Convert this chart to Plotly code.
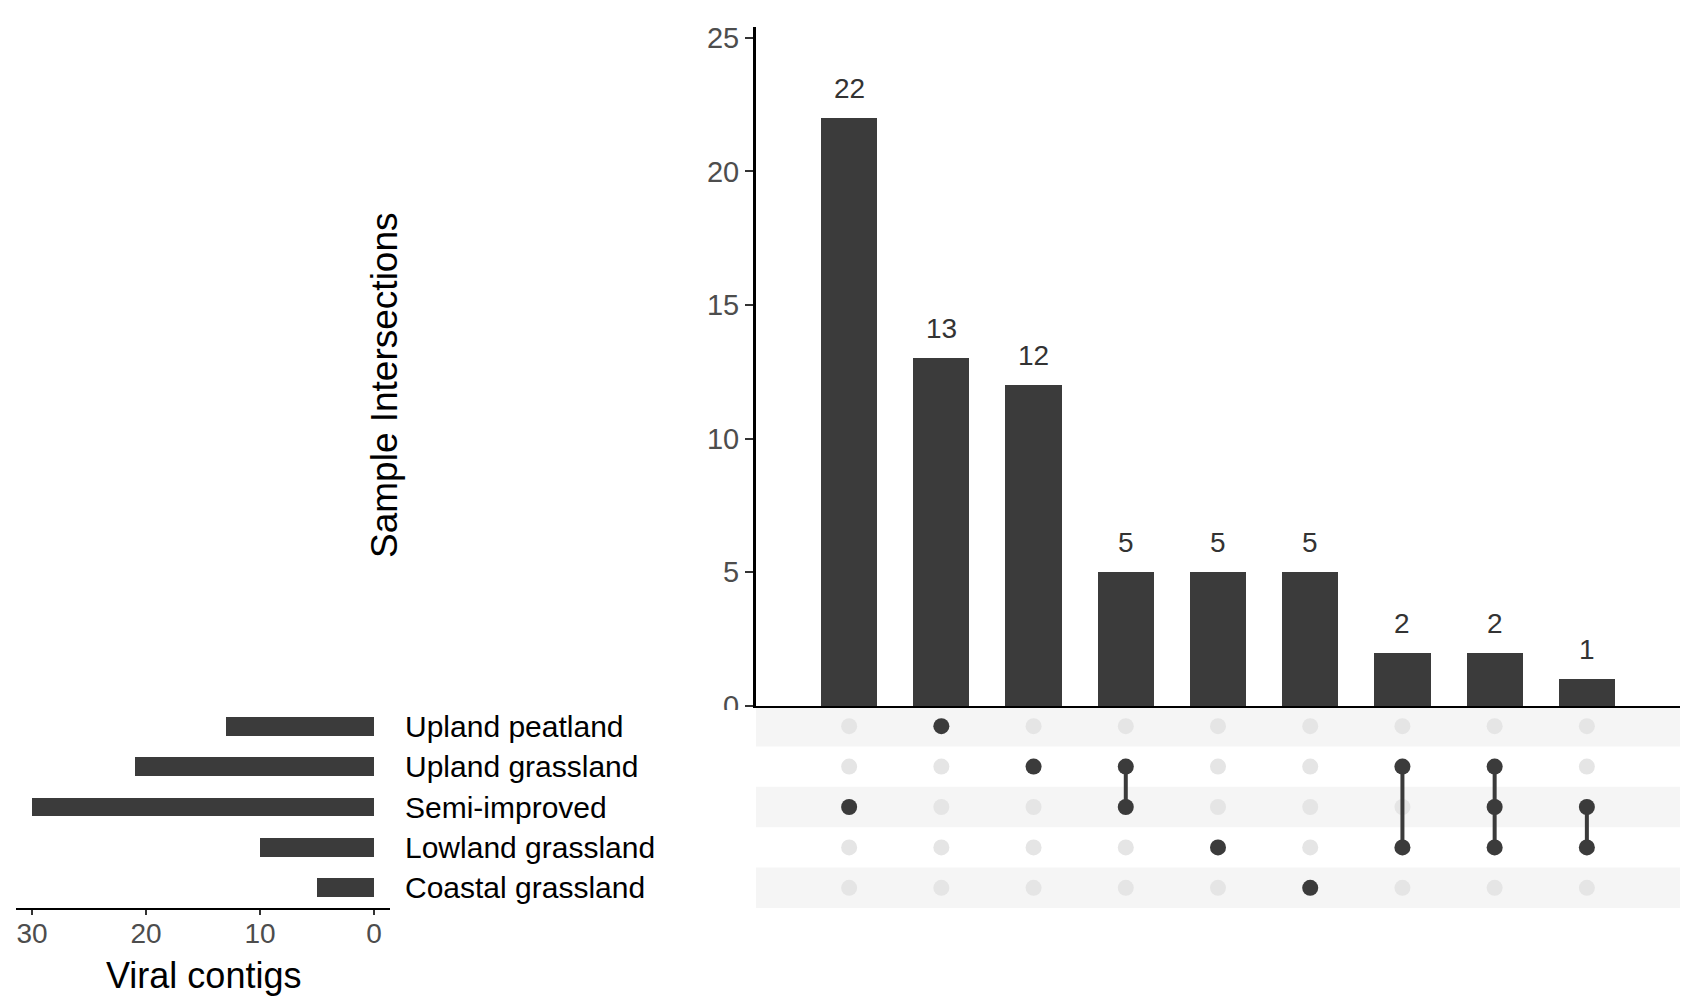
import plotly.graph_objects as go

# Sets (top to bottom in the matrix) and their total sizes
set_names = ["Upland peatland", "Upland grassland", "Semi-improved",
             "Lowland grassland", "Coastal grassland"]
set_sizes = [13, 21, 30, 10, 5]

# Intersections, in descending order of size
intersection_sizes = [22, 13, 12, 5, 5, 5, 2, 2, 1]
intersection_members = [
    ["Semi-improved"],
    ["Upland peatland"],
    ["Upland grassland"],
    ["Upland grassland", "Semi-improved"],
    ["Lowland grassland"],
    ["Coastal grassland"],
    ["Upland grassland", "Lowland grassland"],
    ["Upland grassland", "Semi-improved", "Lowland grassland"],
    ["Semi-improved", "Lowland grassland"],
]

W, H = 1686, 997
DARK = "#3b3b3b"
DOT_OFF = "#e5e5e5"
BAND = "#f5f5f5"
FONT = "Liberation Sans, Arial, Helvetica, sans-serif"


def px_x(p):
    return p / W


def px_y(p):
    return 1 - p / H


n_int = len(intersection_sizes)
int_x = list(range(n_int))
row_of = {name: i for i, name in enumerate(set_names)}

fig = go.Figure()

# Intersection size bars
fig.add_trace(go.Bar(
    x=int_x, y=intersection_sizes, width=0.61,
    marker=dict(color=DARK, line=dict(width=0)),
    xaxis="x", yaxis="y", showlegend=False, hoverinfo="y",
))

# Matrix: inactive dots
off_x, off_y = [], []
for i in int_x:
    for r in range(len(set_names)):
        off_x.append(i)
        off_y.append(r)
fig.add_trace(go.Scatter(
    x=off_x, y=off_y, mode="markers",
    marker=dict(size=16, color=DOT_OFF, line=dict(width=0)),
    xaxis="x2", yaxis="y2", showlegend=False, hoverinfo="skip",
))

# Matrix: connecting segments
for i, members in zip(int_x, intersection_members):
    rows = sorted(row_of[m] for m in members)
    if len(rows) > 1:
        fig.add_trace(go.Scatter(
            x=[i, i], y=[rows[0], rows[-1]], mode="lines",
            line=dict(color=DARK, width=4),
            xaxis="x2", yaxis="y2", showlegend=False, hoverinfo="skip",
        ))

# Matrix: active dots
on_x, on_y = [], []
for i, members in zip(int_x, intersection_members):
    for m in members:
        on_x.append(i)
        on_y.append(row_of[m])
fig.add_trace(go.Scatter(
    x=on_x, y=on_y, mode="markers",
    marker=dict(size=16, color=DARK, line=dict(width=0)),
    xaxis="x2", yaxis="y2", showlegend=False, hoverinfo="skip",
))

# Set size bars (growing leftwards)
fig.add_trace(go.Bar(
    x=set_sizes, y=list(range(len(set_names))), orientation="h", width=0.47,
    marker=dict(color=DARK, line=dict(width=0)),
    xaxis="x3", yaxis="y3", showlegend=False, hoverinfo="x",
))

main_xdom = [px_x(756), px_x(1680)]
main_ydom = [px_y(706), px_y(27)]
mat_ydom = [px_y(908), px_y(706)]
left_xdom = [px_x(16), px_x(390)]

shapes = []
# alternating row bands behind the matrix
for r in range(len(set_names)):
    if r % 2 == 0:
        shapes.append(dict(
            type="rect", xref="x2 domain", yref="y2",
            x0=0, x1=1, y0=r - 0.5, y1=r + 0.5,
            fillcolor=BAND, line=dict(width=0), layer="below",
        ))
# the matrix panel overlaps the lower part of the "0" tick label
shapes.append(dict(
    type="rect", xref="paper", yref="paper",
    x0=px_x(600), x1=px_x(755), y0=px_y(735), y1=px_y(710),
    fillcolor="white", line=dict(width=0), layer="above",
))

annotations = []
# counts above intersection bars
for i, v in zip(int_x, intersection_sizes):
    annotations.append(dict(
        x=i, y=v, xref="x", yref="y", text=str(v), showarrow=False,
        yanchor="bottom", yshift=12,
        font=dict(family=FONT, size=28, color="#333333"),
    ))
# set names
for r, name in enumerate(set_names):
    annotations.append(dict(
        x=px_x(403), y=r, xref="paper", yref="y2", text=name,
        showarrow=False, xanchor="left", yanchor="middle",
        font=dict(family=FONT, size=30, color="black"),
    ))
# main y-axis title
annotations.append(dict(
    x=px_x(385), y=px_y(385), xref="paper", yref="paper",
    text="Sample Intersections", textangle=-90, showarrow=False,
    xanchor="center", yanchor="middle",
    font=dict(family=FONT, size=37, color="black"),
))
# set size axis title
annotations.append(dict(
    x=px_x(203), y=px_y(975), xref="paper", yref="paper",
    text="Viral contigs", showarrow=False,
    xanchor="center", yanchor="middle",
    font=dict(family=FONT, size=36, color="black"),
))

common_axis = dict(showgrid=False, zeroline=False, fixedrange=True,
                   automargin=False)

fig.update_layout(
    width=W, height=H,
    margin=dict(l=0, r=0, t=0, b=0, pad=0, autoexpand=False),
    paper_bgcolor="white", plot_bgcolor="rgba(0,0,0,0)",
    font=dict(family=FONT),
    bargap=0,
    shapes=shapes,
    annotations=annotations,
    xaxis=dict(
        domain=main_xdom, range=[-1.01, n_int - 1 + 1.01],
        showline=True, linecolor="black", linewidth=1.5,
        showticklabels=False, ticks="", **common_axis,
    ),
    yaxis=dict(
        domain=main_ydom, range=[0, 25.4],
        tickvals=[0, 5, 10, 15, 20, 25],
        showline=True, linecolor="black", linewidth=3,
        ticks="outside", ticklen=8, tickwidth=2, tickcolor="#333333",
        tickfont=dict(family=FONT, size=29, color="#4d4d4d"),
        **common_axis,
    ),
    xaxis2=dict(
        domain=main_xdom, range=[-1.01, n_int - 1 + 1.01], anchor="y2",
        showline=False, showticklabels=False, ticks="", **common_axis,
    ),
    yaxis2=dict(
        domain=mat_ydom, range=[4.5, -0.5], anchor="x2",
        showline=False, showticklabels=False, ticks="", **common_axis,
    ),
    xaxis3=dict(
        domain=left_xdom, range=[31.4, -1.4], anchor="y3",
        tickvals=[0, 10, 20, 30],
        showline=True, linecolor="black", linewidth=2,
        ticks="outside", ticklen=5, tickwidth=2, tickcolor="#333333",
        ticklabelstandoff=-6,
        tickfont=dict(family=FONT, size=28, color="#4d4d4d"),
        **common_axis,
    ),
    yaxis3=dict(
        domain=mat_ydom, range=[4.5, -0.5], anchor="x3",
        showline=False, showticklabels=False, ticks="", **common_axis,
    ),
)

fig.write_html("out.html")
